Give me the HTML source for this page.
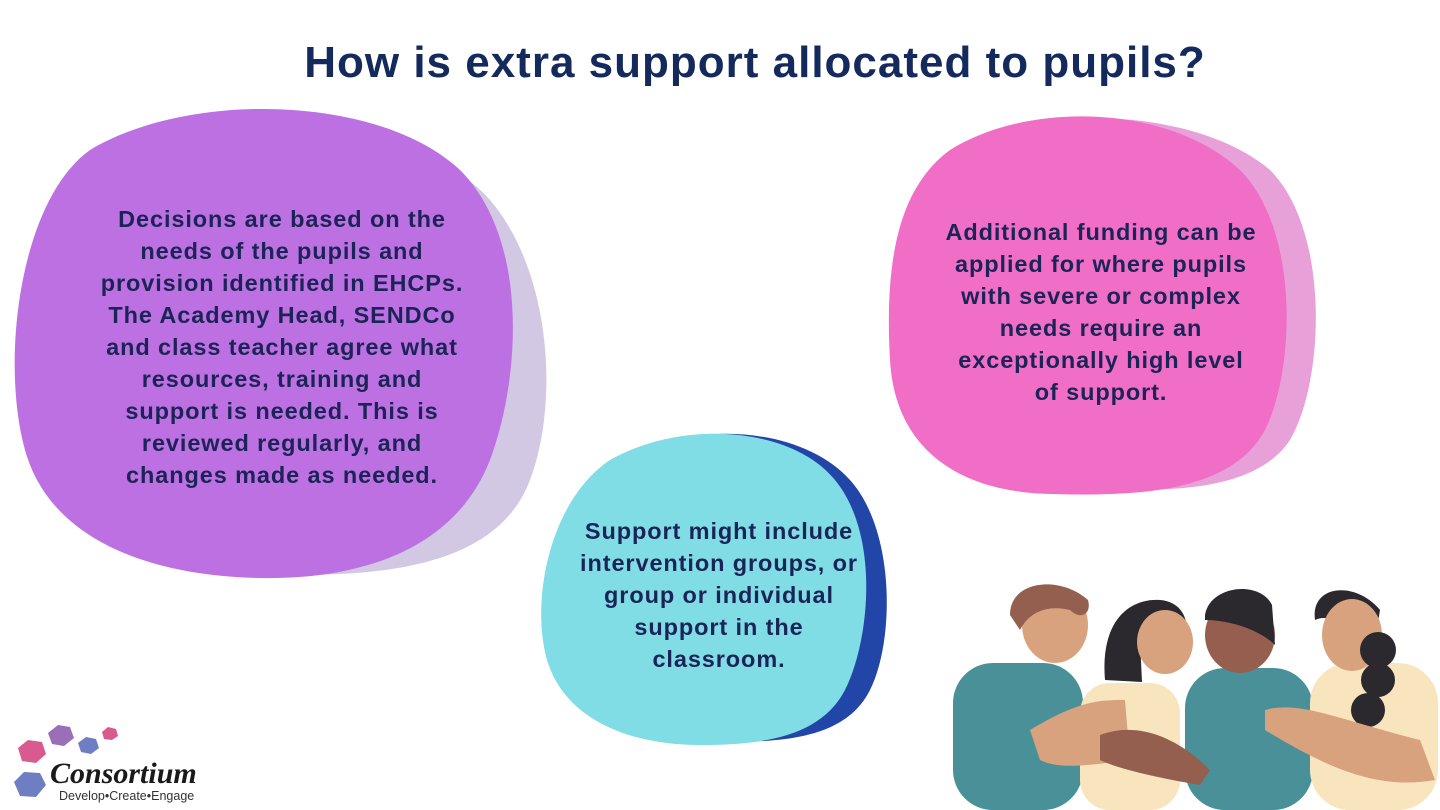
<!DOCTYPE html>
<html><head><meta charset="utf-8"><style>
html,body{margin:0;padding:0;background:#fff;}
body{width:1440px;height:810px;position:relative;overflow:hidden;font-family:"Liberation Sans",sans-serif;}
h1{position:absolute;left:0;width:1510px;top:38px;margin:0;text-align:center;font-size:44px;font-weight:bold;color:#14295c;letter-spacing:1px;white-space:nowrap;}
.t{position:absolute;text-align:center;font-weight:bold;font-size:23.5px;line-height:32px;color:#1b2456;letter-spacing:0.9px;white-space:nowrap;}
svg{position:absolute;left:0;top:0;}
</style></head><body>
<svg width="1440" height="810" viewBox="0 0 1440 810">
<path d="M110 150 C220 95 420 120 490 200 C550 270 560 400 530 480 C500 560 400 575 300 575 C190 575 90 540 60 460 C30 380 40 200 110 150Z" fill="#d2c8e4"/>
<path d="M90 150 C190 90 380 95 460 170 C530 240 520 380 490 460 C455 550 360 580 260 578 C150 576 50 540 25 450 C0 360 20 200 90 150Z" fill="#bd70e2"/>
<path d="M960 150 C1040 100 1200 110 1270 170 C1330 230 1325 380 1290 440 C1250 500 1140 490 1060 488 C970 486 900 450 893 360 C886 270 900 190 960 150Z" fill="#e8a0d9"/>
<path d="M950 150 C1030 100 1170 105 1240 170 C1300 230 1295 370 1265 430 C1230 495 1130 496 1050 494 C960 492 895 450 890 360 C885 270 895 190 950 150Z" fill="#f06ec6"/>
<path d="M620 460 C690 420 800 425 850 480 C895 530 895 640 870 690 C845 740 780 742 720 742 C650 742 580 720 560 660 C540 600 560 500 620 460Z" fill="#2245a8"/>
<path d="M610 460 C680 420 790 425 835 480 C880 535 870 640 845 690 C820 738 760 745 700 745 C630 745 565 720 547 660 C530 600 550 500 610 460Z" fill="#80dce5"/>
<g>
<rect x="953" y="663" width="130" height="147" rx="40" fill="#4a9098"/>
<ellipse cx="1055" cy="625" rx="33" ry="38" fill="#d8a27e"/>
<path d="M1010 615 C1010 580 1060 575 1088 600 C1092 615 1080 620 1070 610 C1050 605 1030 610 1020 630Z" fill="#945f4f"/>
<rect x="1080" y="683" width="100" height="127" rx="30" fill="#f8e5be"/>
<path d="M1105 680 C1100 620 1130 598 1160 600 C1185 602 1190 625 1185 640 L1140 640 L1142 682Z" fill="#2b282e"/>
<ellipse cx="1165" cy="642" rx="28" ry="32" fill="#d8a27e"/>
<rect x="1185" y="668" width="128" height="142" rx="40" fill="#4a9098"/>
<ellipse cx="1240" cy="635" rx="35" ry="38" fill="#965e4f"/>
<path d="M1205 615 C1210 585 1260 580 1272 605 L1275 645 C1260 630 1230 620 1205 620Z" fill="#2b282e"/>
<rect x="1310" y="663" width="128" height="147" rx="40" fill="#f8e5be"/>
<path d="M1315 620 C1310 585 1355 580 1380 610 L1375 640 C1355 640 1335 610 1315 620Z" fill="#2b282e"/>
<ellipse cx="1352" cy="635" rx="30" ry="36" fill="#d8a27e"/>
<circle cx="1378" cy="650" r="18" fill="#2b282e"/><circle cx="1378" cy="680" r="17" fill="#2b282e"/><circle cx="1368" cy="710" r="17" fill="#2b282e"/>
<path d="M1030 730 C1080 700 1100 700 1125 700 L1130 760 C1090 765 1060 770 1040 760Z" fill="#d8a27e"/>
<path d="M1100 735 C1140 720 1180 740 1210 770 L1200 785 C1170 780 1120 770 1100 760Z" fill="#945f4f"/>
<path d="M1265 710 C1300 700 1340 720 1420 740 L1435 780 C1380 790 1330 770 1265 730Z" fill="#d8a27e"/>
</g>
<polygon points="18,748 28,740 42,742 46,754 36,763 22,761" fill="#d85a8e"/>
<polygon points="48,733 58,725 70,727 74,738 64,746 52,744" fill="#9a6fb8"/>
<polygon points="78,743 86,737 96,739 99,748 91,754 81,752" fill="#6d7ec3"/>
<polygon points="102,732 108,727 116,729 118,736 112,740 104,739" fill="#d85a8e"/>
<polygon points="14,782 24,772 40,773 46,785 36,797 20,796" fill="#6d7ec3"/>
<text x="50" y="783" font-family="Liberation Serif,serif" font-style="italic" font-weight="bold" font-size="30" fill="#1a1a1a">Consortium</text>
<text x="59" y="800" font-family="Liberation Sans,sans-serif" font-size="12.5" fill="#333">Develop•Create•Engage</text>
</svg>
<h1>How is extra support allocated to pupils?</h1>
<div class="t" style="left:32px;width:500px;top:203px">Decisions are based on the<br>needs of the pupils and<br>provision identified in EHCPs.<br>The Academy Head, SENDCo<br>and class teacher agree what<br>resources, training and<br>support is needed. This is<br>reviewed regularly, and<br>changes made as needed.</div>
<div class="t" style="left:900px;width:402px;top:216px">Additional funding can be<br>applied for where pupils<br>with severe or complex<br>needs require an<br>exceptionally high level<br>of support.</div>
<div class="t" style="left:520px;width:398px;top:515px">Support might include<br>intervention groups, or<br>group or individual<br>support in the<br>classroom.</div>
</body></html>
